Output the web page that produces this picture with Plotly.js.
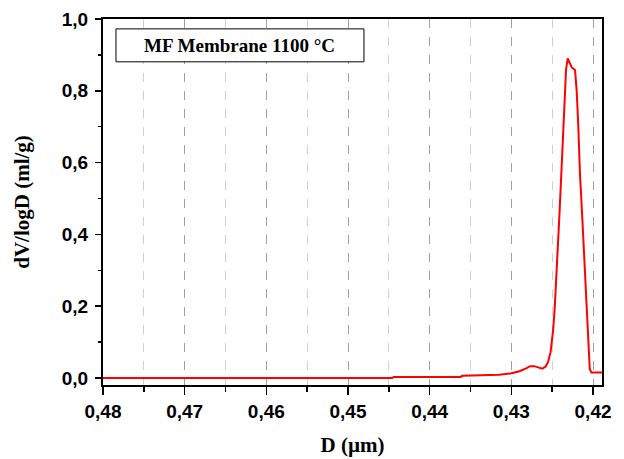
<!DOCTYPE html>
<html>
<head>
<meta charset="utf-8">
<script src="https://cdn.plot.ly/plotly-3.0.1.min.js"></script>
<style>html,body{margin:0;padding:0;background:#fff;}#chart{width:624px;height:459px;}</style>
</head>
<body>
<div id="chart"></div>
<script>
// Pore diameter D (µm)
var diameter = [0.4800, 0.4700, 0.4600, 0.4500, 0.4446, 0.4444, 0.4400, 0.4362, 0.4360, 0.4330,
  0.4315, 0.4300, 0.4290, 0.4282, 0.4277, 0.4272, 0.4267, 0.4262, 0.4258, 0.4255,
  0.4252, 0.4249, 0.4247, 0.4245, 0.4243, 0.4241, 0.4239, 0.4237, 0.4235, 0.4233,
  0.4231, 0.4229, 0.4226, 0.4222, 0.4220, 0.4218, 0.4216, 0.4213, 0.4211, 0.4209,
  0.4207, 0.4205, 0.4204, 0.4202, 0.4189];
// dV/logD (ml/g)
var dvlogd = [0, 0, 0, 0, 0, 0.003, 0.003, 0.003, 0.006, 0.007,
  0.009, 0.013, 0.019, 0.027, 0.033, 0.033, 0.029, 0.026, 0.032, 0.045,
  0.072, 0.13, 0.19, 0.27, 0.36, 0.46, 0.56, 0.66, 0.75, 0.86,
  0.89, 0.88, 0.865, 0.858, 0.80, 0.70, 0.57, 0.44, 0.34, 0.24,
  0.15, 0.07, 0.025, 0.015, 0.015];
var legendLabel = "MF Membrane 1100 °C";
var xTitle = "D (µm)";
var yTitle = "dV/logD (ml/g)";

var trace = {
  x: diameter, y: dvlogd, type: 'scatter', mode: 'lines',
  line: {color: '#ff0000', width: 2}, hoverinfo: 'skip', showlegend: false
};

var tickFont = {family: '"Liberation Sans", Arial, sans-serif', size: 19, color: '#000', weight: 'bold'};
var titleFont = {family: '"Liberation Serif", "Times New Roman", serif', size: 21, color: '#000', weight: 'bold'};

var layout = {
  width: 624, height: 459,
  margin: {l: 103, r: 22, t: 19, b: 74},
  paper_bgcolor: '#fff', plot_bgcolor: '#fff',
  separators: ', ',
  showlegend: false,
  xaxis: {
    range: [0.48, 0.4189], dtick: 0.01, tick0: 0.42, tickformat: '.2f',
    showline: true, linecolor: '#000', linewidth: 2, mirror: true,
    ticks: 'outside', ticklen: 8, tickwidth: 1.5, tickcolor: '#000',
    showgrid: true, gridcolor: '#a0a0a0', griddash: 'dash', gridwidth: 1,
    minor: {dtick: 0.005, ticks: 'outside', ticklen: 5, tickwidth: 1.5, tickcolor: '#000',
            showgrid: true, gridcolor: '#d0d0d0', griddash: 'dash', gridwidth: 1},
    zeroline: false,
    tickfont: tickFont,
    title: {text: xTitle, font: titleFont, standoff: 17}
  },
  yaxis: {
    range: [-0.0195, 1.0], dtick: 0.2, tick0: 0, tickformat: '.1f',
    showline: true, linecolor: '#000', linewidth: 2, mirror: true,
    ticks: 'outside', ticklen: 6, tickwidth: 1.5, tickcolor: '#000',
    ticklabelstandoff: 3,
    showgrid: false, zeroline: false,
    minor: {dtick: 0.1, ticks: 'outside', ticklen: 3, tickwidth: 1.5, tickcolor: '#000', showgrid: false},
    tickfont: tickFont,
    title: {text: yTitle, font: titleFont, standoff: 26}
  },
  shapes: [{
    type: 'rect', xref: 'paper', yref: 'paper',
    x0: 0.026, x1: 0.523, y0: 0.883, y1: 0.973,
    line: {color: '#000', width: 1}, fillcolor: '#fff', layer: 'above'
  }],
  annotations: [{
    text: legendLabel, xref: 'paper', yref: 'paper', x: 0.2745, y: 0.928,
    xanchor: 'center', yanchor: 'middle', showarrow: false,
    font: {family: '"Liberation Serif", "Times New Roman", serif', size: 19, color: '#000', weight: 'bold'}
  }]
};

Plotly.newPlot('chart', [trace], layout, {staticPlot: true, displayModeBar: false});
</script>
</body>
</html>
